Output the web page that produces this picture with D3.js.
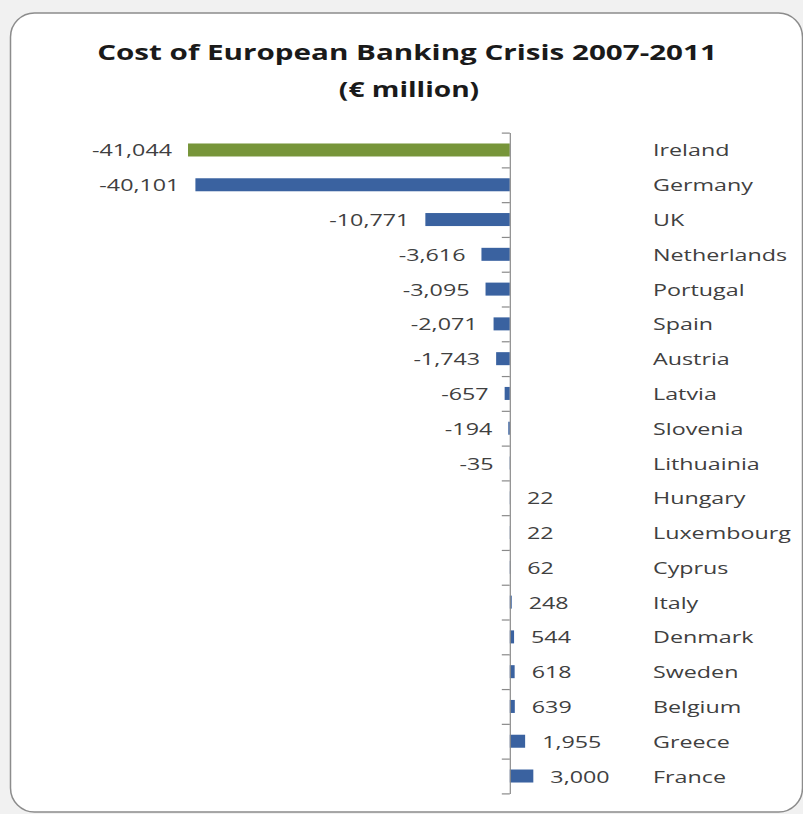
<!DOCTYPE html>
<html>
<head>
<meta charset="utf-8">
<script src="https://cdn.jsdelivr.net/npm/d3@7"></script>
<style>
  html, body { margin: 0; padding: 0; background: #f1f1f1; }
  svg { display: block; }
</style>
</head>
<body>
<svg id="chart" width="803" height="814"></svg>
<script>
// Cost of the European banking crisis 2007-2011, € million
const countries = ["Ireland", "Germany", "UK", "Netherlands", "Portugal", "Spain", "Austria",
  "Latvia", "Slovenia", "Lithuainia", "Hungary", "Luxembourg", "Cyprus", "Italy",
  "Denmark", "Sweden", "Belgium", "Greece", "France"];
const costs = [-41044, -40101, -10771, -3616, -3095, -2071, -1743, -657, -194, -35,
  22, 22, 62, 248, 544, 618, 639, 1955, 3000];
const highlighted = ["Ireland"];
const titleLines = ["Cost of European Banking Crisis 2007-2011", "(€ million)"];
const xDomain = [-45000, 5000];

const svg = d3.select("#chart");
const FONT = "'Open Sans', 'DejaVu Sans', sans-serif";
const SX = 1.37; // horizontal stretch applied to text glyphs

// panel
svg.append("rect")
  .attr("x", 10.5).attr("y", 13)
  .attr("width", 792).attr("height", 799)
  .attr("rx", 24).attr("ry", 24)
  .attr("fill", "#ffffff")
  .attr("stroke", "#8c8c8c").attr("stroke-width", 1.5);

// stretched text helper: position group, scale horizontally
function label(parent, x, y, text, opts) {
  const g = parent.append("g").attr("transform", `translate(${x},${y}) scale(${opts.sx || SX},1)`);
  return g.append("text")
    .attr("x", 0).attr("y", 0)
    .attr("text-anchor", opts.anchor || "start")
    .attr("font-family", FONT)
    .attr("font-size", opts.size || 17)
    .attr("font-weight", opts.weight || "normal")
    .attr("fill", opts.fill || "#404040")
    .text(text);
}

// title
const tMeasure = svg.append("text").attr("font-family", FONT).attr("font-size", 20.5)
  .attr("font-weight", "bold").text(titleLines[0]);
const tSX = 620 / tMeasure.node().getComputedTextLength();
tMeasure.remove();
label(svg, 407, 59.5, titleLines[0], {anchor: "middle", size: 20.5, weight: "bold", fill: "#1a1a1a", sx: tSX});
label(svg, 409, 96.5, titleLines[1], {anchor: "middle", size: 20.5, weight: "bold", fill: "#1a1a1a", sx: tSX * 0.95});

// scales
const plotTop = 132.6, plotBottom = 793.4;
const x = d3.scaleLinear().domain(xDomain).range([157, 549]);
const y = d3.scaleBand().domain(countries).range([plotTop, plotBottom])
  .paddingInner(0.626).paddingOuter(0.313);

// bars
svg.append("g").selectAll("rect")
  .data(countries)
  .join("rect")
  .attr("x", (d, i) => Math.min(x(costs[i]), x(0)))
  .attr("y", d => y(d))
  .attr("width", (d, i) => Math.abs(x(costs[i]) - x(0)))
  .attr("height", y.bandwidth())
  .attr("fill", d => highlighted.includes(d) ? "#77953a" : "#3a62a0");

// category axis at zero with ticks on band boundaries
const yIdx = d3.scaleLinear().domain([0, countries.length]).range([plotTop, plotBottom]);
const axis = svg.append("g")
  .attr("transform", `translate(${x(0)},0)`)
  .call(d3.axisLeft(yIdx).tickValues(d3.range(countries.length + 1))
    .tickSize(8).tickSizeOuter(0).tickFormat(""));
axis.selectAll("path, line").attr("stroke", "#8a8a8a").attr("stroke-width", 1.2);

// value labels
const fmt = d3.format(",");
const vals = svg.append("g");
countries.forEach((c, i) => {
  const v = costs[i];
  const cy = y(c) + y.bandwidth() / 2 + 6.5;
  if (v < 0) label(vals, x(v) - 16, cy, fmt(v).replace("−", "-"), {anchor: "end"});
  else label(vals, x(v) + 17, cy, fmt(v), {anchor: "start"});
});

// country names
const names = svg.append("g");
countries.forEach(c => {
  label(names, 653, y(c) + y.bandwidth() / 2 + 6.5, c, {anchor: "start"});
});
</script>
</body>
</html>
